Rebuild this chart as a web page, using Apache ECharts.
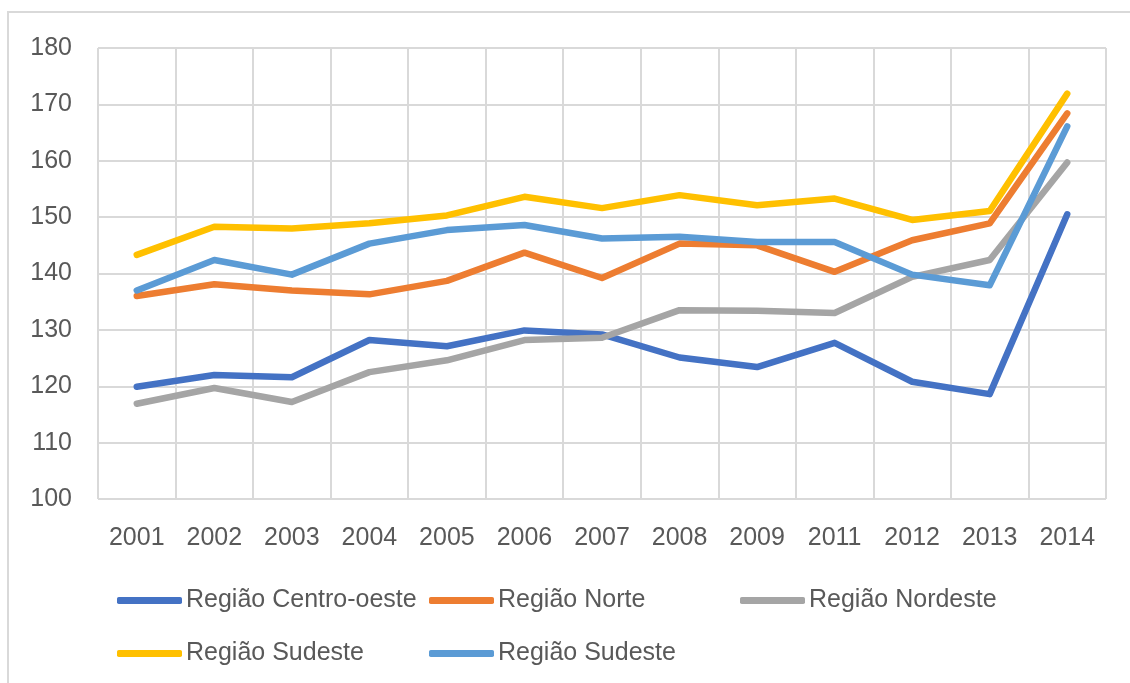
<!DOCTYPE html>
<html>
<head>
<meta charset="utf-8">
<script src="https://cdn.jsdelivr.net/npm/echarts@6/dist/echarts.min.js"></script>
<style>
    html, body { margin: 0; padding: 0; background: #fff; }
    #chart { width: 1130px; height: 683px; }
</style>
</head>
<body>
<div id="chart"></div>
<script>
// dados
let years = ['2001', '2002', '2003', '2004', '2005', '2006', '2007', '2008', '2009', '2011', '2012', '2013', '2014'];

let centroOeste = [119.9, 122.0, 121.6, 128.2, 127.1, 129.9, 129.2, 125.1, 123.4, 127.7, 120.8, 118.6, 150.5];
let norte       = [136.0, 138.1, 137.0, 136.3, 138.7, 143.7, 139.2, 145.3, 145.0, 140.3, 145.9, 148.9, 168.4];
let nordeste    = [116.9, 119.7, 117.2, 122.5, 124.6, 128.2, 128.6, 133.5, 133.4, 133.0, 139.4, 142.4, 159.7];
let sudeste     = [143.3, 148.3, 148.0, 148.9, 150.3, 153.6, 151.6, 153.9, 152.1, 153.3, 149.5, 151.1, 171.9];
let sudeste2    = [137.0, 142.4, 139.8, 145.3, 147.7, 148.6, 146.2, 146.5, 145.6, 145.6, 139.8, 137.9, 166.1];

// o rótulo "Região Sudeste" aparece duas vezes; o espaço final só serve para separar as séries
let seriesNames = ['Região Centro-oeste', 'Região Norte', 'Região Nordeste', 'Região Sudeste', 'Região Sudeste '];
let seriesData = [centroOeste, norte, nordeste, sudeste, sudeste2];
let colors = ['#4472C4', '#ED7D31', '#A5A5A5', '#FFC000', '#5B9BD5'];

let yTicks = [100, 110, 120, 130, 140, 150, 160, 170, 180];

let fontFamily = '"Liberation Sans", Arial, sans-serif';
let textColor = '#595959';
let gridColor = '#D9D9D9';

// posições das legendas (estilo Excel, em colunas)
let legendPos = [[117, 588], [429, 588], [740, 588], [117, 641], [429, 641]];

let legends = seriesNames.map(function (name, i) {
    return {
        data: [name],
        left: legendPos[i][0],
        top: legendPos[i][1],
        padding: 0,
        icon: 'roundRect',
        itemWidth: 65,
        itemHeight: 7,
        selectedMode: false,
        formatter: function (n) { return n.trim(); },
        textStyle: { fontSize: 25, color: textColor, fontFamily: fontFamily, padding: [0, 0, 0, -1] }
    };
});

let series = seriesNames.map(function (name, i) {
    return {
        name: name,
        type: 'line',
        data: seriesData[i],
        symbol: 'none',
        color: colors[i],
        lineStyle: { width: 6.5, color: colors[i], cap: 'round', join: 'round' }
    };
});

let chart = echarts.init(document.getElementById('chart'));
chart.setOption({
    animation: false,
    backgroundColor: '#fff',
    graphic: [{
        type: 'rect',
        shape: { x: 8, y: 12, width: 1200, height: 800 },
        style: { fill: 'none', stroke: gridColor, lineWidth: 2 },
        silent: true
    }],
    grid: { left: 98, right: 24, top: 48, bottom: 184, containLabel: false },
    legend: legends,
    xAxis: {
        type: 'category',
        data: years,
        boundaryGap: true,
        axisLine: { show: false },
        axisTick: { show: false },
        axisLabel: { fontSize: 25, color: textColor, fontFamily: fontFamily, margin: 27 },
        splitLine: { show: true, lineStyle: { color: gridColor, width: 2 } }
    },
    yAxis: {
        type: 'value',
        min: yTicks[0],
        max: yTicks[yTicks.length - 1],
        interval: 10,
        axisLine: { show: false },
        axisTick: { show: false },
        axisLabel: { fontSize: 25, color: textColor, fontFamily: fontFamily, margin: 26 },
        splitLine: { lineStyle: { color: gridColor, width: 2 } }
    },
    series: series
});
</script>
</body>
</html>
